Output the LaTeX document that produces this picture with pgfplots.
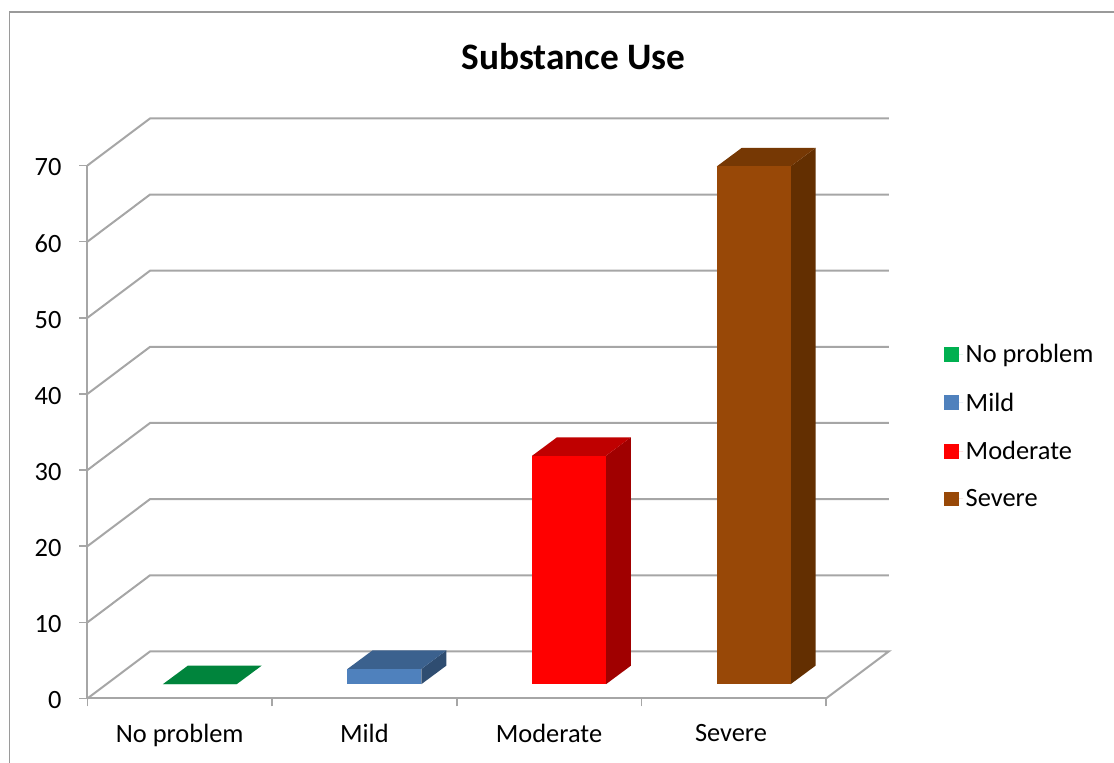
\documentclass[border=0pt]{standalone}
\usepackage{fontspec}
\setmainfont{Carlito}
\usepackage{pgfplots}
\pgfplotsset{compat=1.18}

\definecolor{gridgray}{HTML}{A6A6A6}
\definecolor{framegray}{HTML}{9A9A9A}
\definecolor{greenleg}{HTML}{00B050}
\definecolor{greentop}{HTML}{00843C}
\definecolor{bluefront}{HTML}{4F81BD}
\definecolor{bluetop}{HTML}{3B618E}
\definecolor{blueside}{HTML}{2F4D71}
\definecolor{redfront}{HTML}{FF0000}
\definecolor{redtop}{HTML}{BF0000}
\definecolor{redside}{HTML}{A00000}
\definecolor{brownfront}{HTML}{984807}
\definecolor{browntop}{HTML}{763804}
\definecolor{brownside}{HTML}{632F01}

% 1 reference pixel = 0.75pt
\pgfplotsset{
  chartbase/.style={
    scale only axis, width=553.9pt, height=399.75pt,
    xmin=-0.5, xmax=3.5, ymin=0, ymax=70,
    clip=false, anchor=south west,
  },
  wall/.style={gridgray, line width=1.5pt, no markers, sharp plot, forget plot},
  face/.style={fill=#1, draw=none, no markers, forget plot},
  bar/.style={ybar, bar width=55.4pt, bar shift=0pt, fill=#1, draw=none,
    legend image code/.code={
      \fill[#1] (0pt,-5.6pt) rectangle (11.25pt,5.6pt);
      \path (0pt,0pt) -- (14.4pt,0pt);
    }},
}

\begin{document}
\begin{tikzpicture}
\path[use as bounding box] (0pt,0pt) rectangle (835.5pt,572.25pt);
\draw[framegray, line width=1.2pt] (7.1pt,0pt) -- (7.1pt,563.2pt) -- (835.5pt,563.2pt);

% walls and floor, front plane of the chart
\begin{axis}[chartbase, at={(65.6pt,48.4pt)},
  axis x line=bottom, axis y line=left,
  axis line style={gridgray, line width=1.5pt, -},
  tick style={gridgray, line width=1.2pt},
  tick align=outside, major tick length=6pt,
  xtick={-0.5,0.5,1.5,2.5,3.5},
  xticklabels={No problem,Mild,Moderate,Severe\kern4pt,},
  x tick label style={xshift=69.2pt},
  ytick={0,10,...,70},
  /pgf/number format/assume math mode=true,
  tick label style={font=\fontsize{19.8pt}{22pt}\selectfont},
  xticklabel style={yshift=-10pt},
  yticklabel style={xshift=-10pt, yshift=-1.5pt},
  title={\textbf{Substance Use}},
  title style={at={(0.658,1.1886)}, anchor=center, font=\fontsize{28pt}{30pt}\selectfont},
]
\addplot[wall] coordinates {(-0.5,0) (-0.161,6.18) (3.84,6.18) (3.5,0)};
\addplot[wall] coordinates {(-0.5,10) (-0.161,16.18) (3.84,16.18)};
\addplot[wall] coordinates {(-0.5,20) (-0.161,26.18) (3.84,26.18)};
\addplot[wall] coordinates {(-0.5,30) (-0.161,36.18) (3.84,36.18)};
\addplot[wall] coordinates {(-0.5,40) (-0.161,46.18) (3.84,46.18)};
\addplot[wall] coordinates {(-0.5,50) (-0.161,56.18) (3.84,56.18)};
\addplot[wall] coordinates {(-0.5,60) (-0.161,66.18) (3.84,66.18)};
\addplot[wall] coordinates {(-0.5,70) (-0.161,76.18) (3.84,76.18)};
\end{axis}

% bars, same scale, moved to the middle of the floor's depth
\begin{axis}[chartbase, at={(80.6pt,59.1pt)}, hide axis,
  legend style={at={(1.1267,0.648)}, anchor=north west, draw=none, fill=none,
    row sep=17pt, font=\fontsize{19.8pt}{22pt}\selectfont},
  legend cell align=left,
]
\addplot[face=greentop] coordinates {(-0.2,0) (0.2,0) (0.335,2.43) (-0.065,2.43)} --cycle;

\addplot[face=blueside] coordinates {(1.2,0) (1.335,2.43) (1.335,4.43) (1.2,2)} --cycle;
\addplot[face=bluetop] coordinates {(0.8,2) (1.2,2) (1.335,4.43) (0.935,4.43)} --cycle;

\addplot[face=redside] coordinates {(2.2,0) (2.335,2.43) (2.335,32.43) (2.2,30)} --cycle;
\addplot[face=redtop] coordinates {(1.8,30) (2.2,30) (2.335,32.43) (1.935,32.43)} --cycle;

\addplot[face=brownside] coordinates {(3.2,0) (3.335,2.43) (3.335,70.43) (3.2,68)} --cycle;
\addplot[face=browntop] coordinates {(2.8,68) (3.2,68) (3.335,70.43) (2.935,70.43)} --cycle;

\addplot[bar=greenleg] coordinates {(0,0)};
\addlegendentry{No problem}
\addplot[bar=bluefront] coordinates {(1,2)};
\addlegendentry{Mild}
\addplot[bar=redfront] coordinates {(2,30)};
\addlegendentry{Moderate}
\addplot[bar=brownfront] coordinates {(3,68)};
\addlegendentry{Severe}
\end{axis}
\end{tikzpicture}
\end{document}
